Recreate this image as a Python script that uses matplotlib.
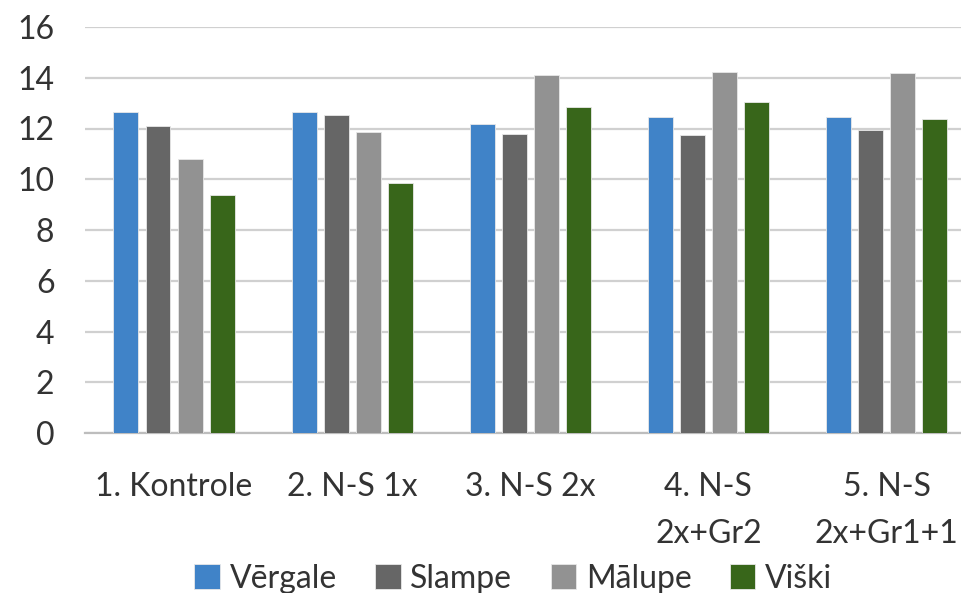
import matplotlib.pyplot as plt
import numpy as np

categories = ['1. Kontrole', '2. N-S 1x', '3. N-S 2x', '4. N-S\n2x+Gr2', '5. N-S\n2x+Gr1+1']
vergale = [12.65, 12.65, 12.17, 12.44, 12.44]
slampe = [12.09, 12.52, 11.80, 11.76, 11.93]
malupe = [10.78, 11.85, 14.12, 14.24, 14.20]
viski = [9.36, 9.86, 12.84, 13.05, 12.37]
series_names = ['Vērgale', 'Slampe', 'Mālupe', 'Viški']
colors = ['#4083c8', '#666666', '#929292', '#38661a']

plt.rcParams['font.family'] = ['Lato', 'DejaVu Sans']

fig = plt.figure(figsize=(9.61, 5.93), dpi=100)
ax = fig.add_axes([85 / 961, 1 - 433 / 593, 1 - 85 / 961, (433 - 27) / 593])

x = np.arange(len(categories))
width = 0.14
step = 0.18
for i, (vals, name) in enumerate(zip([vergale, slampe, malupe, viski], series_names)):
    ax.bar(x + (i - 1.5) * step, vals, width, color=colors[i], label=name,
           edgecolor='#e8e8e8', linewidth=0.6, zorder=3)

ax.set_ylim(0, 16)
ax.set_xlim(-0.5, 4.418)
ax.set_yticks(range(0, 17, 2))
ax.grid(axis='y', color='#d0d0d0', linewidth=1.6, zorder=0)
for s in ['top', 'right', 'left']:
    ax.spines[s].set_visible(False)
ax.spines['bottom'].set_color('#bdbdbd')
ax.spines['bottom'].set_linewidth(1.6)
ax.tick_params(axis='both', length=0, labelsize=23, colors='#333333')
ax.tick_params(axis='y', pad=22)
ax.set_xticks(x)
ax.set_xticklabels(categories, linespacing=1.7, va='top')
ax.tick_params(axis='x', pad=28)

fig.legend(loc='center', bbox_to_anchor=(0.534, 0.024), ncol=4, frameon=False,
           fontsize=23, handlelength=0.8, handleheight=0.8, handletextpad=0.3,
           columnspacing=1.2, labelcolor='#333333')

fig.savefig('out.png', dpi=100, facecolor='white')
